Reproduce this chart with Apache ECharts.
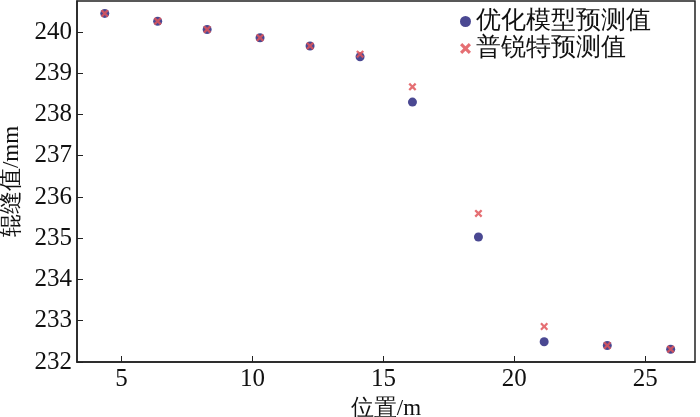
<!DOCTYPE html>
<html>
<head>
<meta charset="utf-8">
<script src="https://cdn.jsdelivr.net/npm/echarts@6/dist/echarts.min.js"></script>
<style>
html, body { margin: 0; padding: 0; background: #fff; }
#chart { width: 700px; height: 417px; }
</style>
</head>
<body>
<div id="chart"></div>
<script>
// 位置 (m)
var positions = [4.36, 6.38, 8.27, 10.29, 12.2, 14.11, 16.11, 18.63, 21.14, 23.55, 25.97];
// 优化模型预测值 (mm)
var optValues = [240.45, 240.26, 240.06, 239.86, 239.66, 239.40, 238.30, 235.03, 232.49, 232.40, 232.31];
// 普锐特预测值 (mm)
var prValues = [240.45, 240.26, 240.06, 239.86, 239.66, 239.46, 238.67, 235.60, 232.86, 232.40, 232.31];

var seriesNames = ['优化模型预测值', '普锐特预测值'];
var fontFam = "'Times New Roman', 'Liberation Serif', serif";
var crossPath = 'path://M0,2 L2,0 L5,3 L8,0 L10,2 L7,5 L10,8 L8,10 L5,7 L2,10 L0,8 L3,5 Z';

function pairs(xs, ys) {
	var out = [];
	for (var i = 0; i < xs.length; i++) {
		out.push([xs[i], ys[i]]);
	}
	return out;
}

var chart = echarts.init(document.getElementById('chart'));
var option = {
	animation: false,
	textStyle: { fontFamily: fontFam },
	grid: {
		left: 77, right: 5, top: 1, bottom: 55,
		outerBoundsMode: 'none',
		containLabel: false,
		show: true, borderColor: '#222', borderWidth: 1.5
	},
	legend: {
		orient: 'vertical',
		left: 455, top: 4,
		itemGap: 2,
		itemWidth: 11, itemHeight: 11,
		textStyle: { fontFamily: fontFam, fontSize: 25, color: '#111' },
		data: [
			{ name: seriesNames[0], icon: 'circle' },
			{ name: seriesNames[1], icon: crossPath }
		]
	},
	xAxis: {
		type: 'value',
		min: 3.3, max: 26.9,
		splitNumber: 5,
		name: '位置/m',
		nameLocation: 'middle',
		nameGap: 35,
		nameTextStyle: { fontFamily: fontFam, fontSize: 23, color: '#111' },
		axisLine: { lineStyle: { color: '#222', width: 1.5 } },
		axisTick: { inside: true, length: 6, lineStyle: { color: '#222' } },
		axisLabel: { fontFamily: fontFam, fontSize: 25, color: '#111', margin: 5, showMinLabel: false, showMaxLabel: false },
		splitLine: { show: false }
	},
	yAxis: {
		type: 'value',
		min: 232, max: 240.75,
		interval: 1,
		name: '辊缝值/mm',
		nameLocation: 'middle',
		nameGap: 50,
		nameTextStyle: { fontFamily: fontFam, fontSize: 23, color: '#111' },
		axisLine: { lineStyle: { color: '#222', width: 1.5 } },
		axisTick: { inside: true, length: 6, lineStyle: { color: '#222' } },
		axisLabel: { fontFamily: fontFam, fontSize: 25, color: '#111', margin: 5, showMaxLabel: false },
		splitLine: { show: false }
	},
	series: [
		{
			name: seriesNames[0],
			type: 'scatter',
			symbol: 'circle',
			symbolSize: 9,
			itemStyle: { color: '#4a4892', opacity: 1 },
			data: pairs(positions, optValues)
		},
		{
			name: seriesNames[1],
			type: 'scatter',
			symbol: crossPath,
			symbolSize: 8,
			itemStyle: { color: '#e0565a', opacity: 0.85 },
			data: pairs(positions, prValues)
		}
	]
};
chart.setOption(option);
</script>
</body>
</html>
